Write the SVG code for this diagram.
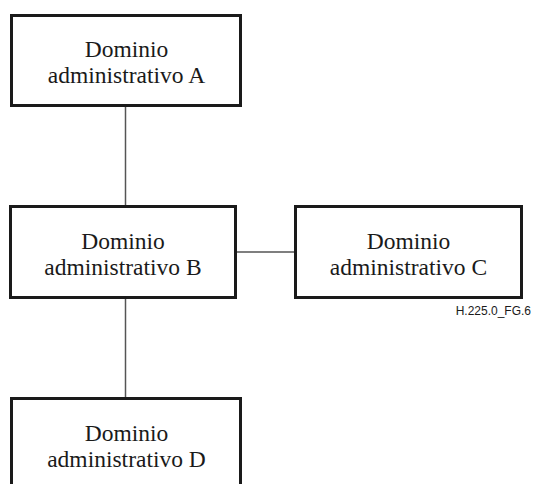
<svg xmlns="http://www.w3.org/2000/svg" width="535" height="484" viewBox="0 0 535 484">
<style>
.box{fill:#fff;stroke:#1a1a1a;stroke-width:3}
.lbl{font-family:"Liberation Serif","Times New Roman",serif;font-size:23.5px;fill:#1a1a1a;text-anchor:middle}
.conn{stroke:#555;stroke-width:1.5;fill:none}
.tag{font-family:"Liberation Sans",Arial,sans-serif;font-size:12px;fill:#1a1a1a;text-anchor:end}
</style>
<rect width="535" height="484" fill="#fff"/>
<g id="connectors">
<line class="conn" x1="125.5" y1="106" x2="125.5" y2="206"/>
<line class="conn" x1="236" y1="252" x2="295" y2="252"/>
<line class="conn" x1="125.5" y1="298" x2="125.5" y2="398"/>
</g>
<g id="nodeA">
<rect class="box" x="11.5" y="15.5" width="229" height="90"/>
<text class="lbl" x="126.5" y="57">Dominio</text>
<text class="lbl" x="126.5" y="83">administrativo A</text>
</g>
<g id="nodeB">
<rect class="box" x="10.5" y="206.5" width="225" height="91"/>
<text class="lbl" x="123" y="249">Dominio</text>
<text class="lbl" x="123" y="275">administrativo B</text>
</g>
<g id="nodeC">
<rect class="box" x="295.5" y="206.5" width="226" height="91"/>
<text class="lbl" x="408.5" y="249">Dominio</text>
<text class="lbl" x="408.5" y="275">administrativo C</text>
</g>
<g id="nodeD">
<rect class="box" x="11.5" y="398.5" width="229" height="92"/>
<text class="lbl" x="126.5" y="441">Dominio</text>
<text class="lbl" x="126.5" y="467">administrativo D</text>
</g>
<text class="tag" x="531" y="315">H.225.0_FG.6</text>
</svg>
